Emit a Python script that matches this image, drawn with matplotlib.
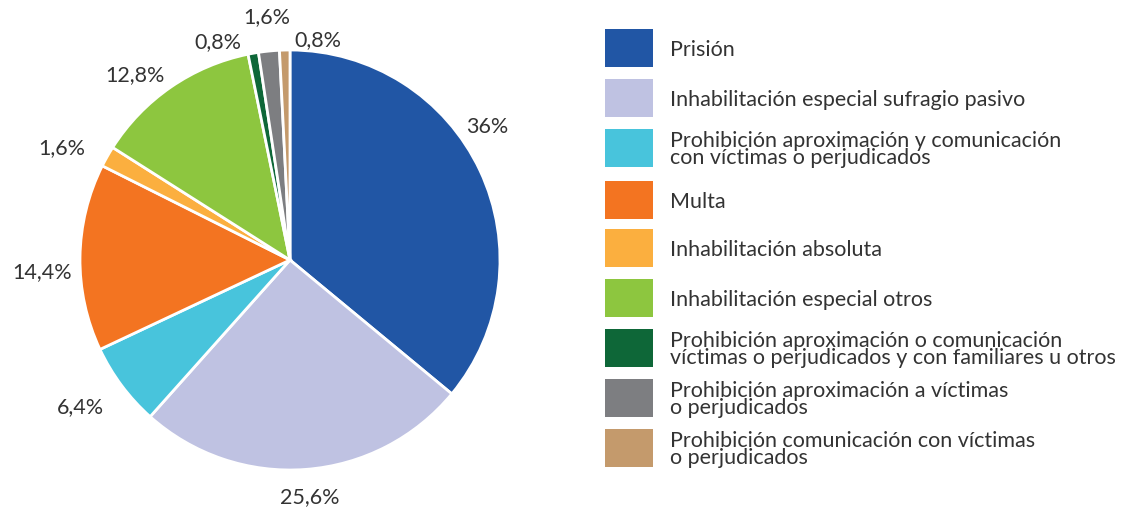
import numpy as np
import matplotlib
matplotlib.use("Agg")
import matplotlib.pyplot as plt
from matplotlib.patches import Rectangle

plt.rcParams['font.family'] = ['Lato', 'DejaVu Sans']

categories = [
    "Prisión",
    "Inhabilitación especial sufragio pasivo",
    "Prohibición aproximación y comunicación\ncon víctimas o perjudicados",
    "Multa",
    "Inhabilitación absoluta",
    "Inhabilitación especial otros",
    "Prohibición aproximación o comunicación\nvíctimas o perjudicados y con familiares u otros",
    "Prohibición aproximación a víctimas\no perjudicados",
    "Prohibición comunicación con víctimas\no perjudicados",
]
values = [36, 25.6, 6.4, 14.4, 1.6, 12.8, 0.8, 1.6, 0.8]
pct_labels = ["36%", "25,6%", "6,4%", "14,4%", "1,6%", "12,8%", "0,8%", "1,6%", "0,8%"]
colors = ["#2156A5", "#BFC2E2", "#48C4DC", "#F37421", "#FBAF3F",
          "#8DC63F", "#0E6738", "#7D7E81", "#C49A6C"]

# label nudges (data units) away from the plain radial spot at 1.13 r
nudges = [(-0.085, 0.152), (0.01, 0.0), (-0.094, -0.024), (-0.051, -0.071),
          (-0.103, -0.024), (-0.097, -0.050), (-0.145, -0.075), (0.003, 0.033),
          (0.161, -0.082)]

W, H = 1122, 513
fig = plt.figure(figsize=(W / 100, H / 100), dpi=100)

# pie axes: centre ~ (290, 260) px, radius ~210 px
cx, cy, r = 290, 260, 210
ax = fig.add_axes([(cx - r) / W, (H - cy - r) / H, 2 * r / W, 2 * r / H])
wedges, _ = ax.pie(values, colors=colors, startangle=90, counterclock=False,
                   wedgeprops=dict(edgecolor="white", linewidth=2))
ax.set_xlim(-1, 1)
ax.set_ylim(-1, 1)
ax.set_aspect("equal")

for w, lab, (dx, dy) in zip(wedges, pct_labels, nudges):
    ang = np.deg2rad((w.theta1 + w.theta2) / 2)
    x = 1.13 * np.cos(ang)
    y = 1.13 * np.sin(ang)
    ax.text(x + dx, y + dy, lab, ha="center", va="center", fontsize=15.5,
            color="#333333", clip_on=False)

# legend drawn in figure pixel space
lax = fig.add_axes([0, 0, 1, 1])
lax.set_xlim(0, W)
lax.set_ylim(H, 0)
lax.axis("off")
row_y = [48, 98, 148, 200, 248, 298, 348, 398, 448]
for yc, col, name in zip(row_y, colors, categories):
    lax.add_patch(Rectangle((605, yc - 19), 48, 38, facecolor=col, edgecolor="none"))
    lax.text(670, yc + 1.5, name, ha="left", va="center", fontsize=15.5,
             color="#333333", linespacing=0.86)

fig.savefig("out.png", dpi=100, facecolor="white")
